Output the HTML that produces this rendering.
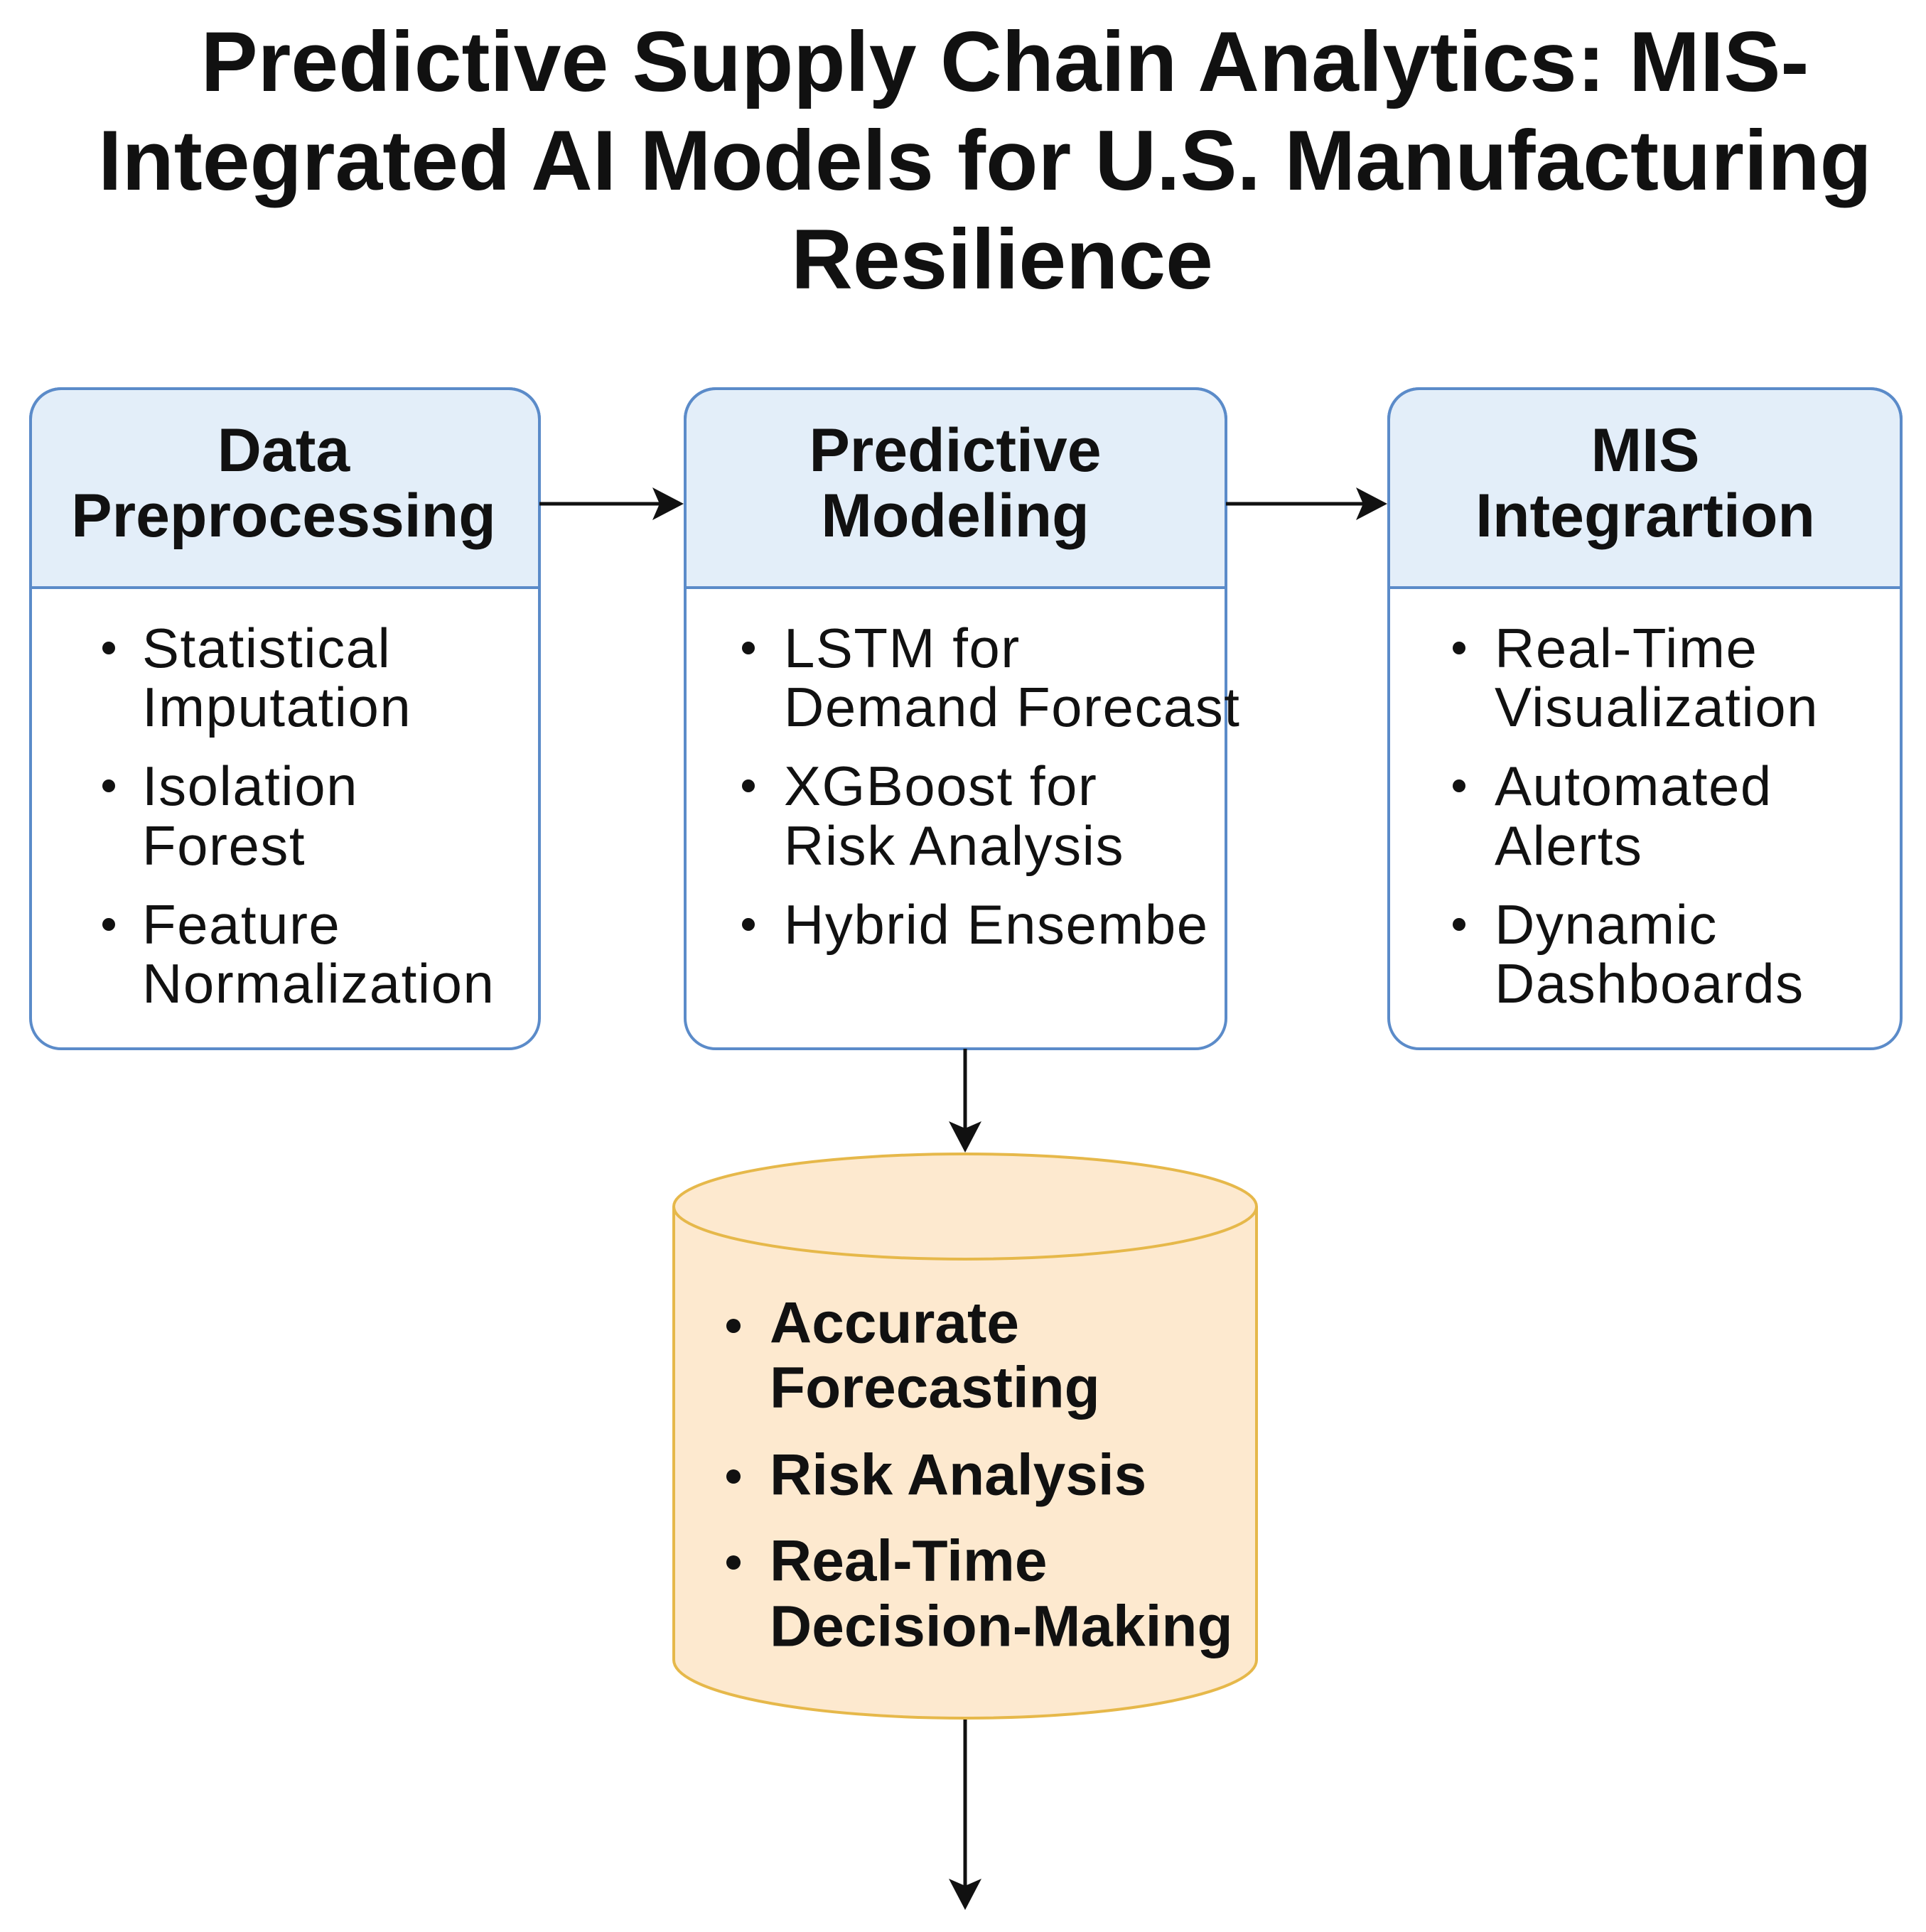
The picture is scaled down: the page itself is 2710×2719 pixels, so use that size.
<!DOCTYPE html>
<html><head><meta charset="utf-8"><style>
html,body{margin:0;padding:0;background:#fff;}
svg{display:block;}
text{font-family:"Liberation Sans",Arial,sans-serif;fill:#111;}
.t{font-weight:bold;font-size:120px;}
.h{font-weight:bold;font-size:86px;}
.b{font-size:78px;letter-spacing:1.5px;}
.c{font-weight:bold;font-size:82px;}
</style></head><body>
<svg width="2710" height="2719" viewBox="0 0 2710 2719" xmlns="http://www.w3.org/2000/svg">
<!-- Title -->
<g text-anchor="middle" dominant-baseline="central">
<text class="t" x="1414" y="87">Predictive Supply Chain Analytics: MIS-</text>
<text class="t" x="1386" y="226">Integrated AI Models for U.S. Manufacturing</text>
<text class="t" x="1410" y="365">Resilience</text>
</g>

<!-- Boxes -->
<g stroke="#5b8bc9" stroke-width="4">
<path d="M43,827 V590 a43,43 0 0 1 43,-43 H716 a43,43 0 0 1 43,43 V827 Z" fill="#e3eef9"/>
<rect x="43" y="547" width="716" height="929" rx="43" fill="none"/>
<line x1="43" y1="827" x2="759" y2="827"/>
<path d="M964,827 V590 a43,43 0 0 1 43,-43 H1682 a43,43 0 0 1 43,43 V827 Z" fill="#e3eef9"/>
<rect x="964" y="547" width="761" height="929" rx="43" fill="none"/>
<line x1="964" y1="827" x2="1725" y2="827"/>
<path d="M1954,827 V590 a43,43 0 0 1 43,-43 H2632 a43,43 0 0 1 43,43 V827 Z" fill="#e3eef9"/>
<rect x="1954" y="547" width="721" height="929" rx="43" fill="none"/>
<line x1="1954" y1="827" x2="2675" y2="827"/>
</g>

<!-- Headers -->
<g text-anchor="middle" dominant-baseline="central">
<text class="h" x="399" y="634">Data</text>
<text class="h" x="399" y="726">Preprocessing</text>
<text class="h" x="1344" y="634">Predictive</text>
<text class="h" x="1344" y="726">Modeling</text>
<text class="h" x="2315" y="634">MIS</text>
<text class="h" x="2315" y="726">Integrartion</text>
</g>

<!-- Body lists -->
<g dominant-baseline="central">
<g fill="#111"><circle cx="153" cy="912" r="9"/><circle cx="153" cy="1106" r="9"/><circle cx="153" cy="1301" r="9"/>
<circle cx="1053" cy="912" r="9"/><circle cx="1053" cy="1106" r="9"/><circle cx="1053" cy="1301" r="9"/>
<circle cx="2053" cy="912" r="9"/><circle cx="2053" cy="1106" r="9"/><circle cx="2053" cy="1301" r="9"/></g>
<text class="b" x="200" y="912">Statistical</text>
<text class="b" x="200" y="995">Imputation</text>
<text class="b" x="200" y="1106">Isolation</text>
<text class="b" x="200" y="1190">Forest</text>
<text class="b" x="200" y="1301">Feature</text>
<text class="b" x="200" y="1384">Normalization</text>

<text class="b" x="1103" y="912">LSTM for</text>
<text class="b" x="1103" y="995">Demand Forecast</text>
<text class="b" x="1103" y="1106">XGBoost for</text>
<text class="b" x="1103" y="1190">Risk Analysis</text>
<text class="b" x="1103" y="1301">Hybrid Ensembe</text>

<text class="b" x="2103" y="912">Real-Time</text>
<text class="b" x="2103" y="995">Visualization</text>
<text class="b" x="2103" y="1106">Automated</text>
<text class="b" x="2103" y="1190">Alerts</text>
<text class="b" x="2103" y="1301">Dynamic</text>
<text class="b" x="2103" y="1384">Dashboards</text>
</g>

<!-- Arrows -->
<g stroke="#111" stroke-width="5" fill="none">
<line x1="759" y1="709" x2="935" y2="709"/>
<line x1="1725" y1="709" x2="1925" y2="709"/>
<line x1="1358" y1="1476" x2="1358" y2="1595"/>
<line x1="1358" y1="2418" x2="1358" y2="2660"/>
</g>
<g fill="#111">
<polygon points="962,709 918,686 928,709 918,732"/>
<polygon points="1952,709 1908,686 1918,709 1908,732"/>
<polygon points="1358,1622 1335,1578 1358,1588 1381,1578"/>
<polygon points="1358,2688 1335,2644 1358,2654 1381,2644"/>
</g>

<!-- Cylinder -->
<path d="M948,1698 V2336 A410,82 0 0 0 1768,2336 V1698" fill="#fde9cf" stroke="#e6b84a" stroke-width="4"/>
<ellipse cx="1358" cy="1698" rx="410" ry="74" fill="#fde9cf" stroke="#e6b84a" stroke-width="4"/>

<g dominant-baseline="central">
<g fill="#111"><circle cx="1032" cy="1866" r="10"/><circle cx="1032" cy="2078" r="10"/><circle cx="1032" cy="2199" r="10"/></g>
<text class="c" x="1083" y="1862">Accurate</text>
<text class="c" x="1083" y="1953">Forecasting</text>
<text class="c" x="1083" y="2076">Risk Analysis</text>
<text class="c" x="1083" y="2197">Real-Time</text>
<text class="c" x="1083" y="2289">Decision-Making</text>
</g>
</svg>
</body></html>
